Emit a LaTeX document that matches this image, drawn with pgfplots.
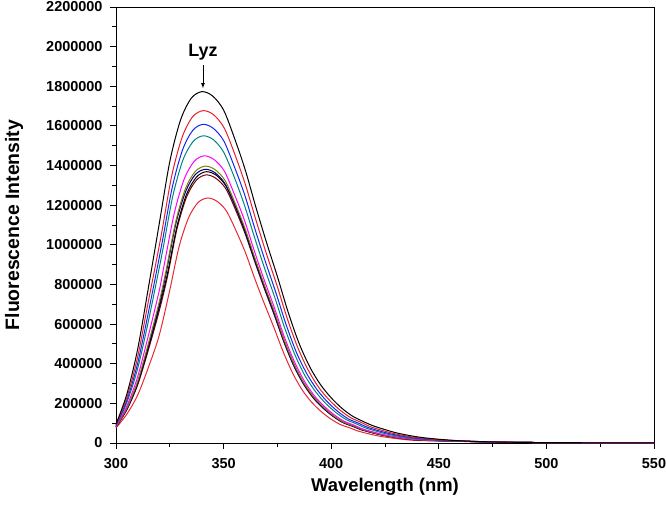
\documentclass[border=0pt]{standalone}
\usepackage{fontspec}
\setmainfont{Liberation Sans}
\usepackage{pgfplots}
\pgfplotsset{compat=1.18}

\definecolor{cred}{RGB}{232,30,40}
\definecolor{cblue}{RGB}{20,40,235}
\definecolor{cteal}{RGB}{0,130,130}
\definecolor{cmag}{RGB}{255,0,255}
\definecolor{colive}{RGB}{128,128,0}
\definecolor{cnavy}{RGB}{0,0,128}
\definecolor{cbrown}{RGB}{120,0,10}
\definecolor{cred2}{RGB}{230,40,50}

\begin{document}
\begin{tikzpicture}
\begin{axis}[
  name=main,
  scale only axis,
  width=538bp, height=436bp,
  xmin=300, xmax=550,
  ymin=0, ymax=2.2,
  xtick={300,350,400,450,500,550},
  minor x tick num=1,
  ytick={0,0.2,0.4,0.6,0.8,1,1.2,1.4,1.6,1.8,2,2.2},
  yticklabels={0,200000,400000,600000,800000,1000000,1200000,1400000,1600000,1800000,2000000,2200000},
  minor y tick num=1,
  xtick pos=left, ytick pos=left,
  tick align=outside,
  major tick length=6bp, minor tick length=3.5bp,
  axis line style={line width=0.9bp},
  every tick/.style={black, line width=0.9bp},
  /pgf/number format/assume math mode=true,
  ticklabel style={font=\bfseries\fontsize{14.5}{16}\selectfont},
  yticklabel style={xshift=-4bp},
  xticklabel style={yshift=-6bp},
  xlabel={Wavelength (nm)},
  ylabel={Fluorescence Intensity},
  xlabel style={font=\bfseries\fontsize{18.5}{21}\selectfont, at={(axis description cs:0.5,0)}, anchor=center, yshift=-44bp},
  ylabel style={font=\bfseries\fontsize{19.5}{22}\selectfont, at={(axis description cs:0,0.5)}, anchor=center, yshift=102bp},
  every axis plot/.append style={line width=1bp, smooth},
  clip=false,
]
\addplot[cred2] coordinates {(300,0.076)(305,0.145)(310,0.240)(315,0.380)(320,0.540)(324.9,0.767)(329.3,0.990)(333.7,1.136)(338.1,1.213)(342.5,1.236)(346.9,1.220)(351.3,1.171)(355.7,1.073)(360.1,0.962)(364.5,0.829)(368.9,0.704)(373.3,0.585)(377.7,0.460)(382.1,0.352)(386.5,0.268)(390.9,0.206)(395.3,0.159)(399.7,0.122)(404.1,0.094)(408.5,0.077)(412.9,0.059)(421.7,0.036)(430.5,0.022)(439.3,0.013)(460,0.008)(470,0.0055)(480,0.0035)(500,0.002)(525,0.001)(550,0.0005)};
\addplot[cbrown] coordinates {(300,0.080)(305,0.167)(310,0.291)(315,0.468)(320,0.663)(323.9,0.839)(328.4,1.083)(332.9,1.244)(337.5,1.328)(342.0,1.353)(346.5,1.335)(351.1,1.282)(355.6,1.175)(360.1,1.053)(364.7,0.908)(369.2,0.771)(373.7,0.641)(378.2,0.504)(382.8,0.385)(387.3,0.294)(391.8,0.225)(396.4,0.174)(400.9,0.134)(405.4,0.103)(410.0,0.084)(414.5,0.065)(423.5,0.040)(432.6,0.024)(441.7,0.014)(460,0.009)(470,0.006)(480,0.004)(500,0.002)(525,0.001)(550,0.0005)};
\addplot[black] coordinates {(300,0.081)(305,0.170)(310,0.298)(315,0.480)(320,0.680)(323.8,0.849)(328.4,1.096)(332.9,1.258)(337.5,1.343)(342.0,1.369)(346.6,1.351)(351.1,1.297)(355.7,1.189)(360.2,1.065)(364.8,0.919)(369.3,0.780)(373.9,0.648)(378.4,0.510)(383.0,0.390)(387.5,0.297)(392.1,0.228)(396.6,0.176)(401.2,0.135)(405.7,0.104)(410.3,0.085)(414.8,0.066)(423.9,0.040)(433.0,0.024)(442.1,0.015)(460,0.009)(470,0.006)(480,0.004)(500,0.002)(525,0.001)(550,0.0005)};
\addplot[cnavy] coordinates {(300,0.081)(305,0.172)(310,0.302)(315,0.488)(320,0.691)(323.3,0.857)(327.8,1.106)(332.4,1.270)(336.9,1.355)(341.5,1.381)(346.1,1.363)(350.6,1.309)(355.2,1.200)(359.7,1.075)(364.3,0.927)(368.9,0.787)(373.4,0.654)(378.0,0.514)(382.5,0.393)(387.1,0.300)(391.7,0.230)(396.2,0.178)(400.8,0.136)(405.3,0.105)(409.9,0.086)(414.5,0.066)(423.6,0.041)(432.7,0.024)(441.8,0.015)(460,0.009)(470,0.006)(480,0.004)(500,0.002)(525,0.001)(550,0.0005)};
\addplot[colive] coordinates {(300,0.082)(305,0.175)(310,0.309)(315,0.500)(320,0.708)(323.2,0.867)(327.8,1.119)(332.3,1.284)(336.9,1.371)(341.5,1.397)(346.1,1.379)(350.7,1.324)(355.2,1.214)(359.8,1.087)(364.4,0.938)(369.0,0.796)(373.6,0.662)(378.1,0.520)(382.7,0.398)(387.3,0.303)(391.9,0.232)(396.5,0.180)(401.0,0.138)(405.6,0.106)(410.2,0.087)(414.8,0.067)(423.9,0.041)(433.1,0.024)(442.3,0.015)(460,0.009)(470,0.006)(480,0.004)(500,0.002)(525,0.001)(550,0.0005)};
\addplot[cmag] coordinates {(300,0.084)(305,0.185)(310,0.332)(315,0.540)(320,0.764)(322.4,0.899)(327.1,1.160)(331.7,1.332)(336.4,1.422)(341.0,1.449)(345.6,1.430)(350.3,1.373)(354.9,1.258)(359.6,1.127)(364.2,0.972)(368.8,0.825)(373.5,0.686)(378.1,0.539)(382.8,0.413)(387.4,0.315)(392.0,0.241)(396.7,0.186)(401.3,0.143)(406.0,0.110)(410.6,0.090)(415.2,0.069)(424.5,0.042)(433.8,0.025)(443.1,0.016)(460,0.010)(470,0.0065)(480,0.004)(500,0.002)(525,0.001)(550,0.0005)};
\addplot[cteal] coordinates {(300,0.087)(305,0.203)(310,0.373)(315,0.612)(321.5,0.961)(326.3,1.241)(331.0,1.425)(335.8,1.521)(340.5,1.550)(345.3,1.530)(350.0,1.468)(354.8,1.346)(359.5,1.206)(364.3,1.040)(369.0,0.883)(373.8,0.734)(378.5,0.577)(383.3,0.441)(388.0,0.336)(392.8,0.258)(397.5,0.199)(402.3,0.153)(407.0,0.118)(411.8,0.096)(416.5,0.074)(426.0,0.045)(435.5,0.027)(445.0,0.017)(460,0.010)(470,0.0065)(480,0.004)(500,0.002)(525,0.001)(550,0.0005)};
\addplot[cblue] coordinates {(300,0.089)(305,0.214)(310,0.399)(315,0.656)(321.2,0.998)(326.1,1.288)(330.9,1.478)(335.7,1.578)(340.5,1.608)(345.3,1.587)(350.1,1.524)(354.9,1.397)(359.8,1.252)(364.6,1.079)(369.4,0.916)(374.2,0.762)(379.0,0.599)(383.8,0.458)(388.7,0.349)(393.5,0.268)(398.3,0.207)(403.1,0.159)(407.9,0.122)(412.7,0.100)(417.5,0.077)(427.2,0.047)(436.8,0.028)(446.4,0.017)(460,0.010)(470,0.0065)(480,0.004)(500,0.002)(525,0.001)(550,0.0005)};
\addplot[cred] coordinates {(300,0.092)(305,0.228)(310,0.431)(315,0.712)(320.9,1.041)(325.8,1.343)(330.7,1.542)(335.6,1.646)(340.5,1.677)(345.4,1.656)(350.3,1.589)(355.2,1.457)(360.1,1.305)(365.0,1.126)(369.9,0.955)(374.8,0.795)(379.7,0.624)(384.6,0.478)(389.5,0.364)(394.3,0.279)(399.2,0.216)(404.1,0.166)(409.0,0.128)(413.9,0.104)(418.8,0.080)(428.6,0.049)(438.4,0.029)(448.2,0.018)(460,0.011)(470,0.007)(480,0.0045)(500,0.002)(525,0.001)(550,0.0005)};
\addplot[black] coordinates {(300,0.095)(305,0.245)(310,0.470)(315,0.780)(320,1.100)(325,1.420)(330,1.630)(335,1.740)(340,1.773)(345,1.750)(350,1.680)(355,1.540)(360,1.380)(365,1.190)(370,1.010)(375,0.840)(380,0.660)(385,0.505)(390,0.385)(395,0.295)(400,0.228)(405,0.175)(410,0.135)(415,0.108)(420,0.085)(430,0.052)(440,0.031)(450,0.019)(460,0.011)(470,0.007)(480,0.0045)(500,0.002)(525,0.001)(550,0.0005)};
\draw[-latex, line width=0.8bp] (axis cs:340.4,1.905) -- (axis cs:340.4,1.79);
\node[font=\bfseries\fontsize{18}{20}\selectfont] at (axis cs:340.4,1.97) {Lyz};
\end{axis}
\pgfresetboundingbox
\path (main.south west) ++(-116bp,-62bp) coordinate (bl);
\path (main.north east) ++(12bp,7bp) coordinate (tr);
\useasboundingbox (bl) rectangle (tr);
\end{tikzpicture}
\end{document}
